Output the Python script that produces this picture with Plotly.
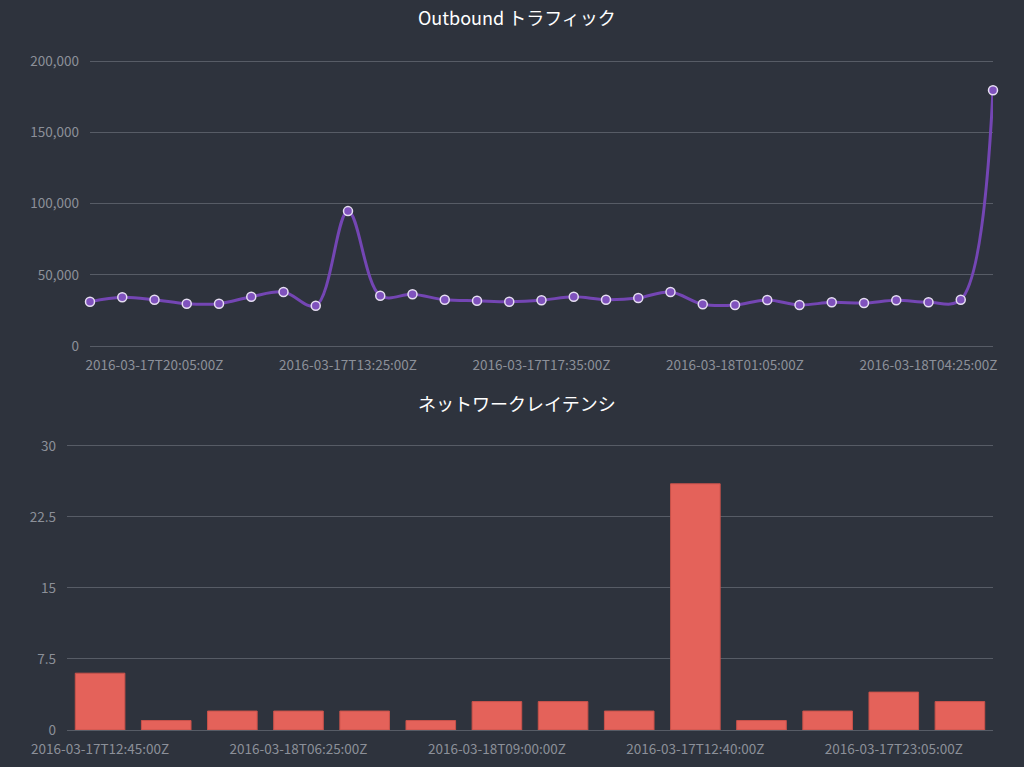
import plotly.graph_objects as go

# ---- data ----
traffic_times = [
    "2016-03-17T19:55:00Z", "2016-03-17T20:00:00Z", "2016-03-17T20:05:00Z", "2016-03-17T20:10:00Z",
    "2016-03-17T20:15:00Z", "2016-03-17T20:20:00Z", "2016-03-17T20:25:00Z", "2016-03-17T13:20:00Z",
    "2016-03-17T13:25:00Z", "2016-03-17T13:30:00Z", "2016-03-17T13:35:00Z", "2016-03-17T13:40:00Z",
    "2016-03-17T13:45:00Z", "2016-03-17T17:30:00Z", "2016-03-17T17:35:00Z", "2016-03-17T17:40:00Z",
    "2016-03-17T17:45:00Z", "2016-03-17T17:50:00Z", "2016-03-18T00:55:00Z", "2016-03-18T01:00:00Z",
    "2016-03-18T01:05:00Z", "2016-03-18T01:10:00Z", "2016-03-18T01:15:00Z", "2016-03-18T01:20:00Z",
    "2016-03-18T04:15:00Z", "2016-03-18T04:20:00Z", "2016-03-18T04:25:00Z", "2016-03-18T04:30:00Z",
    "2016-03-18T04:35:00Z",
]
traffic_values = [
    31100, 34200, 32500, 29700, 29700, 34600, 37900, 28300,
    94700, 35300, 36300, 32500, 31800, 31100, 32100, 34600,
    32500, 33700, 37900, 29300, 28800, 32300, 28800, 30700,
    30200, 32100, 30700, 32500, 179600,
]
traffic_ticks = [
    "2016-03-17T20:05:00Z", "2016-03-17T13:25:00Z", "2016-03-17T17:35:00Z",
    "2016-03-18T01:05:00Z", "2016-03-18T04:25:00Z",
]
traffic_yticks = [0, 50000, 100000, 150000, 200000]

latency_times = [
    "2016-03-17T12:45:00Z", "2016-03-18T06:15:00Z", "2016-03-18T06:20:00Z", "2016-03-18T06:25:00Z",
    "2016-03-18T06:30:00Z", "2016-03-18T08:55:00Z", "2016-03-18T09:00:00Z", "2016-03-18T09:05:00Z",
    "2016-03-17T12:35:00Z", "2016-03-17T12:40:00Z", "2016-03-17T12:50:00Z", "2016-03-17T23:00:00Z",
    "2016-03-17T23:05:00Z", "2016-03-17T23:10:00Z",
]
latency_values = [6, 1, 2, 2, 2, 1, 3, 3, 2, 26, 1, 2, 4, 3]
latency_ticks = [
    "2016-03-17T12:45:00Z", "2016-03-18T06:25:00Z", "2016-03-18T09:00:00Z",
    "2016-03-17T12:40:00Z", "2016-03-17T23:05:00Z",
]
latency_yticks = [0, 7.5, 15, 22.5, 30]
latency_yticktext = ["0", "7.5", "15", "22.5", "30"]

# ---- style ----
BG = "#2e333d"
GRID = "#575c66"
TICK = "#8c9099"
FONT = "Noto Sans CJK JP"
TS = 13.5
W, H = 1024, 767

fig = go.Figure()

fig.add_trace(go.Scatter(
    x=traffic_times, y=traffic_values, mode="lines+markers",
    line=dict(color="#7446b4", width=3, shape="spline", smoothing=1.0),
    marker=dict(size=9, color="#7f52bd", line=dict(color="#e6def2", width=1.5)),
    cliponaxis=False, xaxis="x", yaxis="y", showlegend=False,
))

fig.add_trace(go.Bar(
    x=latency_times, y=latency_values,
    marker=dict(color="#e4625a", line=dict(color="#c9524b", width=1)),
    xaxis="x2", yaxis="y2", showlegend=False,
))

def px_x(p):
    return p / W

def px_y(p):
    return 1 - p / H

fig.update_layout(
    width=W, height=H,
    margin=dict(l=0, r=0, t=0, b=0),
    paper_bgcolor=BG, plot_bgcolor=BG,
    font=dict(family=FONT, color=TICK, size=TS),
    bargap=0.25,
    xaxis=dict(
        domain=[px_x(90), px_x(993)], anchor="y", automargin=False,
        type="category", categoryorder="array", categoryarray=traffic_times,
        range=[0, len(traffic_times) - 1],
        tickmode="array", tickvals=traffic_ticks, ticktext=traffic_ticks,
        showgrid=False, zeroline=False, showline=False, ticks="",
        tickangle=0, ticklabelstandoff=9, tickfont=dict(size=TS, color=TICK, family=FONT),
    ),
    yaxis=dict(
        domain=[px_y(346), px_y(59)], anchor="x", automargin=False,
        range=[0, 201500],
        tickmode="array", tickvals=traffic_yticks,
        tickformat=",d",
        showgrid=True, gridcolor=GRID, gridwidth=1,
        zeroline=True, zerolinecolor=GRID, zerolinewidth=1, showline=False,
        ticks="", ticklabelstandoff=10,
        tickfont=dict(size=TS, color=TICK, family=FONT),
    ),
    xaxis2=dict(
        domain=[px_x(67), px_x(993)], anchor="y2", automargin=False,
        type="category", categoryorder="array", categoryarray=latency_times,
        range=[-0.5, len(latency_times) - 0.5],
        tickmode="array", tickvals=latency_ticks, ticktext=latency_ticks,
        showgrid=False, zeroline=False, showline=False, ticks="",
        tickangle=0, ticklabelstandoff=9, tickfont=dict(size=TS, color=TICK, family=FONT),
    ),
    yaxis2=dict(
        domain=[px_y(730), px_y(444)], anchor="x2", automargin=False,
        range=[0, 30.2],
        tickmode="array", tickvals=latency_yticks, ticktext=latency_yticktext,
        showgrid=True, gridcolor=GRID, gridwidth=1,
        zeroline=True, zerolinecolor=GRID, zerolinewidth=1, showline=False,
        ticks="", ticklabelstandoff=10,
        tickfont=dict(size=TS, color=TICK, family=FONT),
    ),
    annotations=[
        dict(text="Outbound トラフィック", x=px_x(517), y=px_y(17), xref="paper", yref="paper",
             showarrow=False, font=dict(size=18, color="#ffffff", family=FONT),
             xanchor="center", yanchor="middle"),
        dict(text="ネットワークレイテンシ", x=px_x(517), y=px_y(403), xref="paper", yref="paper",
             showarrow=False, font=dict(size=18, color="#ffffff", family=FONT),
             xanchor="center", yanchor="middle"),
    ],
)

fig.write_html("out.html")
